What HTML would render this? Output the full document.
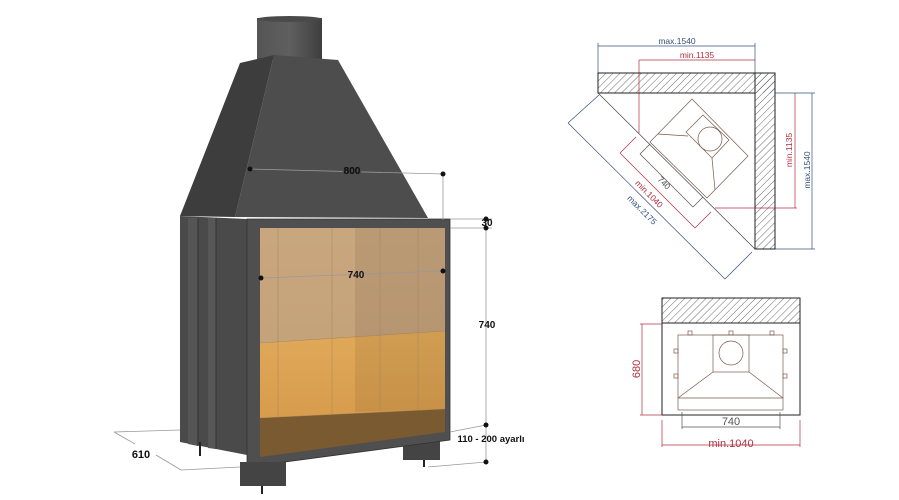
<!DOCTYPE html>
<html><head><style>
html,body{margin:0;padding:0;background:#fff;}
svg{display:block;font-family:"Liberation Sans",Arial,sans-serif;}
</style></head><body>
<svg width="899" height="500" viewBox="0 0 899 500" xmlns="http://www.w3.org/2000/svg">
<defs>
<pattern id="hatch" width="5" height="5" patternUnits="userSpaceOnUse" patternTransform="rotate(45)">
<line x1="0" y1="0" x2="0" y2="5" stroke="#444" stroke-width="0.8"/>
</pattern>
<linearGradient id="upper" x1="0" y1="0" x2="0" y2="1">
<stop offset="0" stop-color="#c9a67e"/><stop offset="1" stop-color="#c4a27a"/>
</linearGradient>
<linearGradient id="lower" x1="0" y1="0" x2="0" y2="1">
<stop offset="0" stop-color="#e0a95a"/><stop offset="1" stop-color="#d79c4c"/>
</linearGradient>
<linearGradient id="chim" x1="0" y1="0" x2="1" y2="0">
<stop offset="0" stop-color="#555"/><stop offset="0.5" stop-color="#5f5f5f"/><stop offset="1" stop-color="#3e3e3e"/>
</linearGradient>
</defs>

<!-- chimney -->
<rect x="257" y="18" width="65" height="42" fill="url(#chim)"/>
<ellipse cx="289.5" cy="19" rx="32.5" ry="3" fill="#4a4a4a"/>
<!-- hood -->
<polygon points="240,63 274,55 235,217 180,216" fill="#3d3d3d"/>
<polygon points="274,55 338,60 428,218 235,217" fill="#4d4d4d"/>
<!-- legs (behind) -->
<rect x="403" y="436" width="37" height="24" fill="#444"/>
<line x1="424" y1="460" x2="424" y2="467" stroke="#222" stroke-width="2"/>
<!-- side body -->
<polygon points="180,216 247,219 247,455 180,442" fill="#4a4a4a"/>
<polygon points="188,218 198,218 198,446 188,444" fill="#555"/>
<polygon points="208,218 216,218 216,449 208,448" fill="#575757"/>
<line x1="198" y1="218" x2="198" y2="446" stroke="#333"/>
<line x1="216" y1="218" x2="216" y2="449" stroke="#333"/>
<!-- front frame -->
<polygon points="247,219 450,219 450,440 247,467" fill="#4f4f4f" stroke="#333" stroke-width="0.8"/>
<!-- opening -->
<polygon points="260,228 445,228 445,432 260,457" fill="#7a5a30"/>
<polygon points="260,228 445,228 445,331 260,343" fill="url(#upper)"/>
<polygon points="260,343 445,331 445,409 260,418" fill="url(#lower)"/>
<polygon points="355,228 445,228 445,409 355,412" fill="#000" opacity="0.07"/>
<g stroke="#a08060" stroke-width="0.6" opacity="0.7">
<line x1="278" y1="228" x2="278" y2="417"/><line x1="332" y1="228" x2="332" y2="414"/>
<line x1="380" y1="228" x2="380" y2="411"/><line x1="418" y1="228" x2="418" y2="410"/>
<line x1="260" y1="343" x2="445" y2="331"/>
<line x1="260" y1="418" x2="445" y2="409"/>
</g>
<!-- front legs -->
<rect x="240" y="462" width="46" height="24" fill="#444"/>
<line x1="200" y1="442" x2="200" y2="456" stroke="#222" stroke-width="2"/>
<line x1="262" y1="486" x2="262" y2="494" stroke="#222" stroke-width="2"/>

<!-- dimensions left -->
<g stroke="#999" stroke-width="0.8" fill="none">
<line x1="250" y1="169" x2="443" y2="174"/>
<line x1="443" y1="174" x2="443" y2="220"/>
<line x1="450" y1="219" x2="492" y2="219"/>
<line x1="450" y1="228" x2="492" y2="228"/>
<line x1="486" y1="219" x2="486" y2="425"/>
<line x1="486" y1="425" x2="486" y2="462"/>
<line x1="450" y1="432" x2="486" y2="425"/>
<line x1="428" y1="467" x2="486" y2="462"/>
<line x1="261" y1="278" x2="443" y2="271"/>
<line x1="114" y1="432" x2="180" y2="430"/>
<line x1="114" y1="432" x2="135" y2="444"/>
<line x1="156" y1="455" x2="181" y2="470"/>
<line x1="181" y1="470" x2="240" y2="467"/>
</g>
<g fill="#111">
<circle cx="250" cy="169" r="2.5"/><circle cx="443" cy="174" r="2.5"/>
<circle cx="486" cy="219" r="2.5"/><circle cx="486" cy="228" r="2.5"/>
<circle cx="261" cy="278" r="2.5"/><circle cx="443" cy="271" r="2.5"/>
<circle cx="486" cy="425" r="2.5"/><circle cx="486" cy="462" r="2.5"/>
</g>
<g font-weight="bold" font-size="10" fill="#111" text-anchor="middle">
<text x="352" y="174" style="paint-order:stroke" stroke="#4d4d4d" stroke-width="3">800</text>
<text x="352" y="174">800</text>
<text x="356" y="278">740</text>
<text x="487" y="226">30</text>
<text x="487" y="328">740</text>
<text x="141" y="458" font-size="11">610</text>
<text x="491" y="442" font-size="9.5">110 - 200 ayarlı</text>
</g>

<!-- corner plan -->
<g stroke="#34507f" stroke-width="0.7" fill="none">
<line x1="598" y1="46" x2="755" y2="46"/><line x1="598" y1="43" x2="598" y2="90"/><line x1="755" y1="43" x2="755" y2="75"/>
<line x1="812" y1="93" x2="812" y2="249"/><line x1="775" y1="93" x2="815" y2="93"/><line x1="775" y1="249" x2="815" y2="249"/>
<line x1="568" y1="123" x2="725" y2="279"/>
<line x1="568" y1="123" x2="599" y2="95"/><line x1="725" y1="279" x2="752" y2="252"/>
</g>
<g stroke="#b03040" stroke-width="0.7" fill="none">
<line x1="639" y1="60" x2="755" y2="60"/><line x1="639" y1="60" x2="639" y2="133"/>
<line x1="795" y1="93" x2="795" y2="208"/><line x1="715" y1="208" x2="797" y2="208"/>
<line x1="620" y1="153" x2="695" y2="228"/>
<line x1="620" y1="153" x2="636" y2="137"/><line x1="695" y1="228" x2="711" y2="212"/>
</g>
<g stroke="#555" stroke-width="0.7" fill="none">
<line x1="640" y1="154" x2="693" y2="207"/>
<line x1="640" y1="154" x2="650" y2="144"/><line x1="693" y1="207" x2="703" y2="197"/>
</g>
<rect x="598" y="73" width="157" height="20" fill="url(#hatch)" stroke="#222" stroke-width="1"/>
<rect x="755" y="73" width="20" height="176" fill="url(#hatch)" stroke="#222" stroke-width="1"/>
<rect x="755" y="73" width="20" height="20" fill="url(#hatch)"/>
<line x1="598" y1="93" x2="755" y2="249" stroke="#444" stroke-width="0.7"/>
<g stroke="#7a5a4a" stroke-width="0.7" fill="none">
<polygon points="692,99 748,156 707,198 650,142"/>
<polygon points="703,115 729,140 712,158 686,132"/>
<circle cx="710" cy="139" r="12"/>
<line x1="658" y1="134" x2="688" y2="136"/><line x1="712" y1="158" x2="715" y2="190"/>
</g>
<g font-size="8.5" text-anchor="middle">
<text x="677" y="44" fill="#34507f">max.1540</text>
<text x="697" y="58" fill="#b03040">min.1135</text>
<text transform="translate(792,150) rotate(-90)" fill="#b03040">min.1135</text>
<text transform="translate(810,170) rotate(-90)" fill="#34507f">max.1540</text>
<text transform="translate(662,185) rotate(45)" fill="#555">740</text>
<text transform="translate(647,196) rotate(45)" fill="#b03040">min.1040</text>
<text transform="translate(640,212) rotate(45)" fill="#34507f">max.2175</text>
</g>

<!-- bottom plan -->
<rect x="662" y="298" width="138" height="117" fill="none" stroke="#222" stroke-width="1"/>
<rect x="662" y="298" width="138" height="25" fill="url(#hatch)" stroke="#222" stroke-width="1"/>
<g stroke="#7a5a4a" stroke-width="0.7" fill="none">
<rect x="678" y="335" width="105" height="75"/>
<rect x="713" y="335" width="36" height="37"/>
<circle cx="731" cy="353" r="12"/>
<polyline points="678,398 713,372"/><polyline points="749,372 783,398"/>
<line x1="678" y1="398" x2="783" y2="398"/>
<rect x="688" y="331" width="4" height="4"/><rect x="729" y="331" width="4" height="4"/><rect x="770" y="331" width="4" height="4"/>
<rect x="674" y="349" width="4" height="4"/><rect x="674" y="374" width="4" height="4"/>
<rect x="783" y="349" width="4" height="4"/><rect x="783" y="374" width="4" height="4"/>
</g>
<g stroke="#b03040" stroke-width="0.7" fill="none">
<line x1="642" y1="324" x2="642" y2="415"/><line x1="640" y1="324" x2="662" y2="324"/><line x1="640" y1="415" x2="662" y2="415"/>
<line x1="662" y1="445" x2="800" y2="445"/><line x1="662" y1="420" x2="662" y2="447"/><line x1="800" y1="420" x2="800" y2="447"/>
</g>
<g stroke="#555" stroke-width="0.7" fill="none">
<line x1="682" y1="427" x2="780" y2="427"/><line x1="682" y1="412" x2="682" y2="429"/><line x1="780" y1="412" x2="780" y2="429"/>
</g>
<g text-anchor="middle" font-size="11">
<text x="731" y="425" fill="#555">740</text>
<text x="731" y="447" fill="#b03040">min.1040</text>
<text transform="translate(640,369) rotate(-90)" fill="#b03040">680</text>
</g>
</svg>
</body></html>
